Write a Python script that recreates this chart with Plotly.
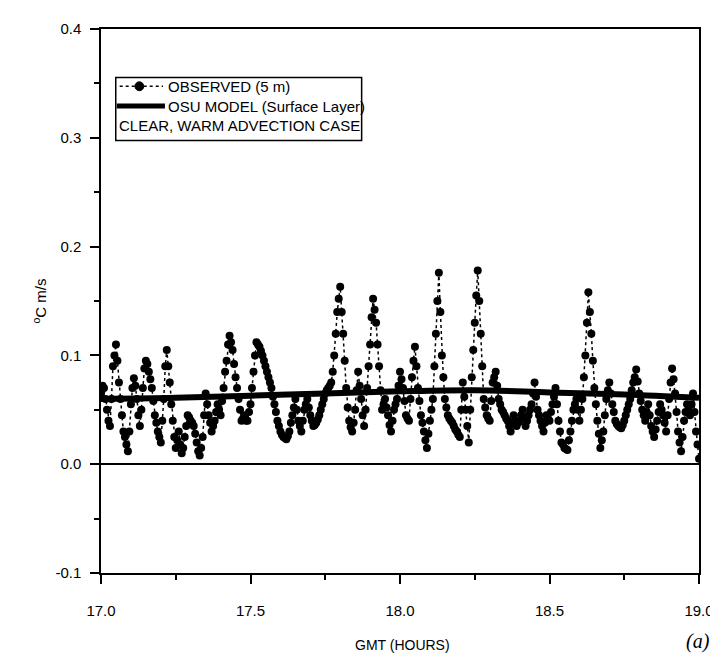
import plotly.graph_objects as go

# ---------------- data ----------------
obs_time = [round(17.0 + 0.005 * i, 3) for i in range(401)]
obs_flux = [
    # 17.0 - 17.1
    0.065, 0.072, 0.070, 0.060, 0.050, 0.040, 0.035, 0.060, 0.090, 0.100,
    0.110, 0.095, 0.075, 0.060, 0.045, 0.030, 0.025, 0.018, 0.012, 0.030,
    # 17.1 - 17.2
    0.055, 0.070, 0.079, 0.072, 0.060, 0.045, 0.035, 0.050, 0.070, 0.088,
    0.095, 0.092, 0.085, 0.078, 0.070, 0.058, 0.045, 0.038, 0.030, 0.025,
    # 17.2 - 17.3
    0.020, 0.040, 0.060, 0.090, 0.105, 0.090, 0.075, 0.055, 0.040, 0.025,
    0.015, 0.022, 0.030, 0.018, 0.010, 0.015, 0.025, 0.035, 0.045, 0.043,
    # 17.3 - 17.4
    0.040, 0.038, 0.035, 0.028, 0.020, 0.012, 0.008, 0.015, 0.025, 0.045,
    0.065, 0.055, 0.045, 0.038, 0.030, 0.035, 0.040, 0.048, 0.055, 0.050,
    # 17.4 - 17.5
    0.045, 0.058, 0.070, 0.085, 0.095, 0.110, 0.118, 0.112, 0.105, 0.092,
    0.080, 0.070, 0.060, 0.050, 0.040, 0.042, 0.045, 0.040, 0.040, 0.048,
    # 17.5 - 17.6
    0.055, 0.070, 0.085, 0.100, 0.112, 0.110, 0.108, 0.104, 0.100, 0.095,
    0.090, 0.085, 0.080, 0.075, 0.070, 0.062, 0.055, 0.048, 0.040, 0.035,
    # 17.6 - 17.7
    0.030, 0.027, 0.025, 0.024, 0.023, 0.026, 0.030, 0.038, 0.045, 0.052,
    0.060, 0.050, 0.040, 0.035, 0.030, 0.040, 0.050, 0.055, 0.060, 0.052,
    # 17.7 - 17.8
    0.045, 0.040, 0.035, 0.036, 0.038, 0.041, 0.045, 0.050, 0.055, 0.060,
    0.065, 0.068, 0.070, 0.072, 0.075, 0.085, 0.100, 0.120, 0.140, 0.152,
    # 17.8 - 17.9
    0.163, 0.140, 0.120, 0.095, 0.070, 0.052, 0.040, 0.034, 0.030, 0.038,
    0.050, 0.068, 0.085, 0.072, 0.060, 0.045, 0.035, 0.050, 0.070, 0.090,
    # 17.9 - 18.0
    0.110, 0.135, 0.152, 0.142, 0.130, 0.110, 0.090, 0.068, 0.050, 0.055,
    0.060, 0.052, 0.045, 0.036, 0.030, 0.040, 0.050, 0.055, 0.060, 0.072,
    # 18.0 - 18.1
    0.085, 0.078, 0.070, 0.058, 0.045, 0.042, 0.040, 0.060, 0.080, 0.095,
    0.108, 0.090, 0.070, 0.058, 0.045, 0.038, 0.030, 0.022, 0.015, 0.028,
    # 18.1 - 18.2
    0.040, 0.050, 0.060, 0.090, 0.120, 0.150, 0.176, 0.140, 0.100, 0.080,
    0.060, 0.052, 0.045, 0.042, 0.040, 0.038, 0.035, 0.032, 0.030, 0.027,
    # 18.2 - 18.3
    0.025, 0.050, 0.075, 0.062, 0.050, 0.035, 0.020, 0.050, 0.080, 0.105,
    0.130, 0.155, 0.178, 0.150, 0.120, 0.090, 0.060, 0.052, 0.045, 0.042,
    # 18.3 - 18.4
    0.040, 0.058, 0.075, 0.080, 0.085, 0.072, 0.060, 0.055, 0.050, 0.048,
    0.045, 0.042, 0.040, 0.035, 0.030, 0.038, 0.045, 0.040, 0.035, 0.038,
    # 18.4 - 18.5
    0.040, 0.045, 0.050, 0.042, 0.035, 0.040, 0.045, 0.050, 0.055, 0.065,
    0.075, 0.062, 0.050, 0.045, 0.040, 0.035, 0.030, 0.038, 0.045, 0.042,
    # 18.5 - 18.6
    0.040, 0.048, 0.055, 0.062, 0.070, 0.055, 0.040, 0.030, 0.020, 0.018,
    0.015, 0.014, 0.013, 0.022, 0.030, 0.040, 0.050, 0.055, 0.060, 0.050,
    # 18.6 - 18.7
    0.040, 0.050, 0.060, 0.080, 0.100, 0.130, 0.158, 0.140, 0.120, 0.095,
    0.070, 0.055, 0.040, 0.028, 0.015, 0.022, 0.030, 0.045, 0.060, 0.068,
    # 18.7 - 18.8
    0.075, 0.065, 0.055, 0.048, 0.040, 0.037, 0.035, 0.034, 0.033, 0.036,
    0.040, 0.045, 0.050, 0.055, 0.060, 0.068, 0.075, 0.080, 0.087, 0.076,
    # 18.8 - 18.9
    0.065, 0.058, 0.050, 0.045, 0.040, 0.048, 0.055, 0.045, 0.035, 0.030,
    0.025, 0.032, 0.040, 0.048, 0.055, 0.050, 0.045, 0.038, 0.030, 0.045,
    # 18.9 - 19.0
    0.060, 0.075, 0.088, 0.078, 0.065, 0.048, 0.030, 0.020, 0.012, 0.025,
    0.040, 0.048, 0.055, 0.050, 0.045, 0.055, 0.065, 0.048, 0.030, 0.018,
    # 19.0
    0.005,
]

model_time = [17.0, 17.25, 17.5, 17.75, 18.0, 18.25, 18.5, 18.75, 19.0]
model_flux = [0.060, 0.061, 0.063, 0.065, 0.067, 0.068, 0.066, 0.064, 0.061]

y_tick_vals = [-0.1, 0.0, 0.1, 0.2, 0.3, 0.4]
y_tick_text = ["-0.1", "0.0", "0.1", "0.2", "0.3", "0.4"]
x_tick_vals = [17.0, 17.5, 18.0, 18.5, 19.0]
x_tick_text = ["17.0", "17.5", "18.0", "18.5", "19.0"]

legend_obs = "OBSERVED (5 m)"
legend_model = "OSU MODEL (Surface Layer)"
legend_case = "CLEAR, WARM ADVECTION CASE"

# ---------------- figure ----------------
W, H = 718, 656
L, R, T, B = 93, 701, 14, 565
FONT = "Liberation Sans Narrow, Arial Narrow, Liberation Sans, Arial, sans-serif"


def px(x):
    return (x - L) / (R - L)


def py(y):
    return (B - y) / (B - T)


fig = go.Figure()
fig.add_trace(go.Scatter(
    x=obs_time, y=obs_flux, mode="lines+markers", name=legend_obs,
    line=dict(color="black", width=1.5, dash="dot"),
    marker=dict(color="black", size=8, symbol="circle"),
    showlegend=False,
))
fig.add_trace(go.Scatter(
    x=model_time, y=model_flux, mode="lines", name=legend_model,
    line=dict(color="black", width=6, shape="spline"),
    showlegend=False,
))

axis_common = dict(
    showline=True, linecolor="black", linewidth=1.5, mirror=True,
    ticks="outside", ticklen=9, tickwidth=1.5, tickcolor="black",
    showgrid=False, tickfont=dict(family=FONT, size=15, color="black"),
)

fig.update_xaxes(
    range=[17.0, 19.0], tickvals=x_tick_vals, ticktext=x_tick_text,
    zeroline=False, ticklabelstandoff=14,
    minor=dict(ticks="outside", ticklen=5, tickcolor="black", dtick=0.25),
    **axis_common,
)
fig.update_yaxes(
    range=[-0.1, 0.4], tickvals=y_tick_vals, ticktext=y_tick_text,
    zeroline=True, zerolinecolor="black", zerolinewidth=1.5,
    ticklabelstandoff=6,
    minor=dict(ticks="outside", ticklen=5, tickcolor="black", dtick=0.05),
    **axis_common,
)

shapes = [
    dict(type="rect", xref="paper", yref="paper",
         x0=px(108), x1=px(358), y0=py(127), y1=py(63),
         line=dict(color="black", width=1.5), fillcolor="white"),
    dict(type="line", xref="paper", yref="paper",
         x0=px(112), x1=px(156), y0=py(72), y1=py(72),
         line=dict(color="black", width=1.5, dash="dot")),
    dict(type="circle", xref="paper", yref="paper",
         x0=px(127.5), x1=px(136.5), y0=py(76.5), y1=py(67.5),
         line=dict(color="black", width=1), fillcolor="black"),
    dict(type="line", xref="paper", yref="paper",
         x0=px(109), x1=px(158), y0=py(92), y1=py(92),
         line=dict(color="black", width=5)),
]

annotations = [
    dict(text=legend_obs, xref="paper", yref="paper", x=px(159), y=py(72),
         xanchor="left", yanchor="middle", showarrow=False,
         font=dict(family=FONT, size=15, color="black")),
    dict(text=legend_model, xref="paper", yref="paper", x=px(159), y=py(92),
         xanchor="left", yanchor="middle", showarrow=False,
         font=dict(family=FONT, size=15, color="black")),
    dict(text=legend_case, xref="paper", yref="paper", x=px(109), y=py(112),
         xanchor="left", yanchor="middle", showarrow=False,
         font=dict(family=FONT, size=15, color="black")),
    dict(text="<sup>o</sup>C m/s", xref="paper", yref="paper",
         x=px(30), y=py(290), textangle=-90, xanchor="center", yanchor="middle",
         showarrow=False, font=dict(family=FONT, size=15, color="black")),
    dict(text="GMT (HOURS)", xref="paper", yref="paper", x=px(400), y=py(638),
         xanchor="center", yanchor="middle", showarrow=False,
         font=dict(family=FONT, size=14, color="black")),
    dict(text="<i>(a)</i>", xref="paper", yref="paper", x=px(714), y=py(634),
         xanchor="right", yanchor="middle", showarrow=False,
         font=dict(family="Liberation Serif, Times New Roman, serif", size=20,
                   color="black")),
]

fig.update_layout(
    width=W, height=H,
    margin=dict(l=L, r=W - R, t=T, b=H - B),
    paper_bgcolor="white", plot_bgcolor="white",
    shapes=shapes, annotations=annotations,
    showlegend=False,
)

fig.write_html("out.html")
